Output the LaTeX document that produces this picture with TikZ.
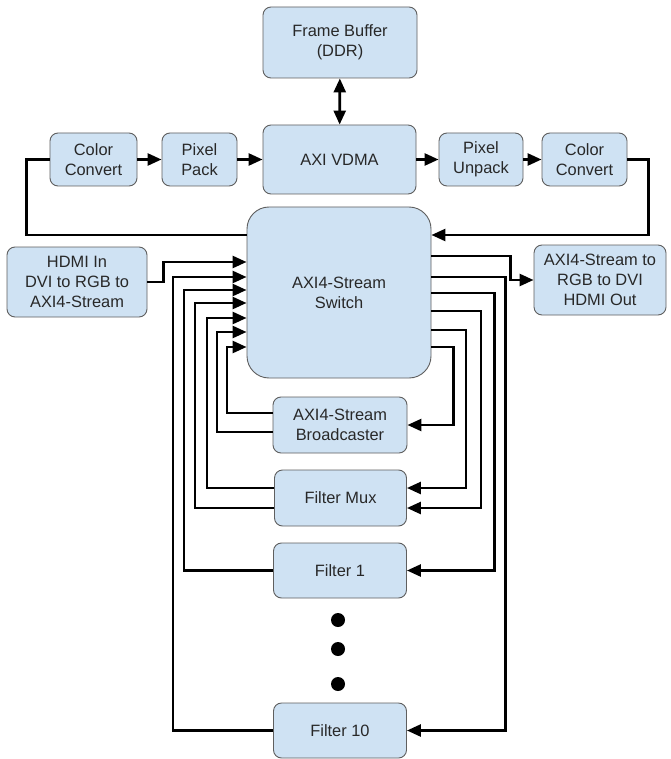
\documentclass[tikz,border=0pt]{standalone}
\usepackage{fontspec}
\setmainfont{Liberation Sans}
\usetikzlibrary{arrows.meta,calc}
\definecolor{boxfill}{RGB}{207,226,243}
\definecolor{boxline}{RGB}{95,95,95}
\definecolor{txt}{RGB}{40,40,40}
\begin{document}
\begin{tikzpicture}[x=1pt,y=-1pt,
  blk/.style={draw=boxline, line width=0.9pt, fill=boxfill, rounded corners=8pt, align=center, text=txt, font=\fontsize{16.4}{20}\selectfont, inner sep=0pt},
  conn/.style={line width=2.6pt, draw=black},
  tip/.style={-{Triangle[length=14pt,width=12pt]}},
  arr/.style={conn, tip},
  dot/.style={circle, fill=black, minimum size=14pt, inner sep=0pt}]
\useasboundingbox (0,0) rectangle (670,759);
\fill[white] (0,0) rectangle (670,759);

\node[blk, minimum width=154pt, minimum height=71pt] (fb) at (340,42.5) {Frame Buffer\\(DDR)};
\node[blk, minimum width=153pt, minimum height=69pt] (vdma) at (339.5,159.5) {AXI VDMA};
\node[blk, minimum width=87pt, minimum height=53pt] (ccl) at (93.5,159.5) {Color\\Convert};
\node[blk, minimum width=75pt, minimum height=53pt] (pp) at (199.5,159.5) {Pixel\\Pack};
\node[blk, minimum width=84pt, minimum height=53pt] (pu) at (481,159.5) {Pixel\\Unpack};
\node[blk, minimum width=85pt, minimum height=53pt] (ccr) at (584.5,159.5) {Color\\Convert};
\node[blk, rounded corners=22pt, minimum width=184pt, minimum height=171pt] (sw) at (339,292.5) {AXI4-Stream\\Switch};
\node[blk, minimum width=140pt, minimum height=70pt] (hin) at (77,282) {HDMI In\\DVI to RGB to\\AXI4-Stream};
\node[blk, minimum width=132pt, minimum height=70pt] (hout) at (600,280) {AXI4-Stream to\\RGB to DVI\\HDMI Out};
\node[blk, minimum width=134pt, minimum height=56pt] (bc) at (340,425) {AXI4-Stream\\Broadcaster};
\node[blk, minimum width=132pt, minimum height=56pt] (fm) at (340.5,498) {Filter Mux};
\node[blk, minimum width=133pt, minimum height=55pt] (f1) at (340,570.5) {Filter 1};
\node[blk, minimum width=133pt, minimum height=55pt] (f10) at (340,730.5) {Filter 10};

\node[dot] (d1) at (338,620) {};
\node[dot] (d2) at (338,649) {};
\node[dot] (d3) at (338,684) {};

% top chain
\draw[conn, {Triangle[length=14pt,width=12pt]}-{Triangle[length=14pt,width=12pt]}] (fb) -- (vdma);
\draw[arr] (ccl) -- (pp);
\draw[arr] (pp) -- (vdma);
\draw[arr] (vdma) -- (pu);
\draw[arr] (pu) -- (ccr);
\draw[conn] (ccl.west) -- ++(-23,0) |- (sw.west |- 0,235);
\draw[arr] (ccr.east) -- ++(21,0) |- (sw.east |- 0,235);

% HDMI in / out
\draw[arr] (hin.east) -- ++(16,0) |- (sw.west |- 0,262);
\draw[arr] (sw.east |- 0,256) -- ++(79,0) |- (hout.west);

% returns to switch (left)
\draw[arr] (f10.west) -| (173,277) -- (sw.west |- 0,277);
\draw[arr] (f1.west) -| (184,290) -- (sw.west |- 0,290);
\draw[arr] ([yshift=-10pt]fm.west) -| (195,303) -- (sw.west |- 0,303);
\draw[arr] ([yshift=10pt]fm.west) -| (207,318) -- (sw.west |- 0,318);
\draw[arr] ([yshift=-7pt]bc.west) -| (217,332) -- (sw.west |- 0,332);
\draw[arr] ([yshift=12pt]bc.west) -| (227,347) -- (sw.west |- 0,347);

% outputs from switch (right)
\draw[arr] (sw.east |- 0,277) -| ([xshift=98.5pt]f10.east) -- (f10.east);
\draw[arr] (sw.east |- 0,293) -| ([xshift=87.5pt]f1.east) -- (f1.east);
\draw[arr] (sw.east |- 0,311) -| ([xshift=74pt,yshift=-10pt]fm.east) -- ([yshift=-10pt]fm.east);
\draw[arr] (sw.east |- 0,330) -| ([xshift=59pt,yshift=10pt]fm.east) -- ([yshift=10pt]fm.east);
\draw[arr] (sw.east |- 0,347) -| ([xshift=46pt]bc.east) -- (bc.east);
\end{tikzpicture}
\end{document}
